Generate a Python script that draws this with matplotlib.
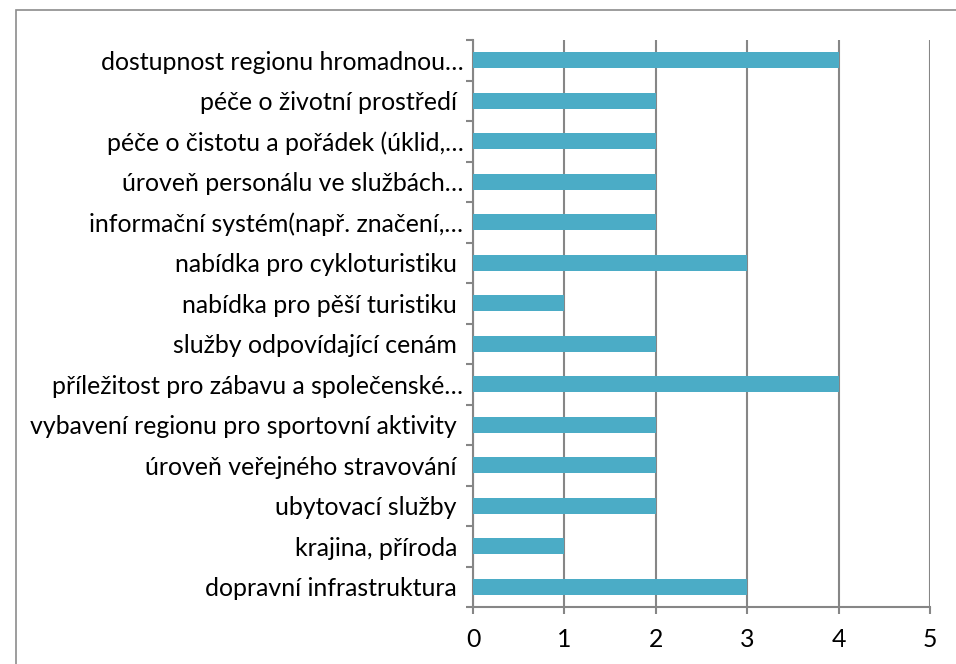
import matplotlib.pyplot as plt
from matplotlib.patches import Rectangle
import numpy as np

# data (top to bottom as in the chart)
labels = [
    'dostupnost regionu hromadnou…',
    'péče o životní prostředí ',
    'péče o čistotu a pořádek (úklid,…',
    'úroveň personálu ve službách…',
    'informační systém(např. značení,…',
    'nabídka pro cykloturistiku ',
    'nabídka pro pěší turistiku ',
    'služby odpovídající cenám ',
    'příležitost pro zábavu a společenské…',
    'vybavení regionu pro sportovní aktivity ',
    'úroveň veřejného stravování ',
    'ubytovací služby ',
    'krajina, příroda ',
    'dopravní infrastruktura ',
]
values = [4, 2, 2, 2, 2, 3, 1, 2, 4, 2, 2, 2, 1, 3]
xticks = [0, 1, 2, 3, 4, 5]

plt.rcParams['font.family'] = ['Lato', 'DejaVu Sans']

W, H = 956, 664
fig = plt.figure(figsize=(W / 100, H / 100), dpi=100)
ax = fig.add_axes([473 / W, 1 - 607 / H, (930 - 473) / W, (607 - 40) / H])

grid_c = '#868686'
n = len(labels)
ypos = np.arange(n)[::-1]
ax.barh(ypos, values, height=0.4, color='#4BACC6', zorder=3)

ax.set_xlim(0, 5)
ax.set_ylim(-0.5, n - 0.5)
ax.set_xticks(xticks)
ax.set_xticklabels([str(t) for t in xticks])
ax.xaxis.grid(True, color=grid_c, linewidth=1.5, zorder=0)

ax.set_yticks(ypos)
ax.set_yticklabels(labels)
ax.set_yticks(np.arange(n + 1) - 0.5, minor=True)
ax.tick_params(axis='y', which='major', length=0, pad=7, labelsize=17.9)
ax.tick_params(axis='y', which='minor', length=5, color=grid_c, width=1.5)
ax.tick_params(axis='x', length=5, color=grid_c, width=1.5, pad=10, labelsize=17.9)

for side in ['top', 'right']:
    ax.spines[side].set_visible(False)
for side in ['left', 'bottom']:
    ax.spines[side].set_color(grid_c)
    ax.spines[side].set_linewidth(1.5)

# chart border
fig.patches.append(Rectangle((16 / W, -0.05), 1.0, 1 - 10 / H + 0.05,
                             transform=fig.transFigure, fill=False,
                             edgecolor='#8c8c8c', linewidth=1.2))

fig.savefig('out.png', dpi=100)
